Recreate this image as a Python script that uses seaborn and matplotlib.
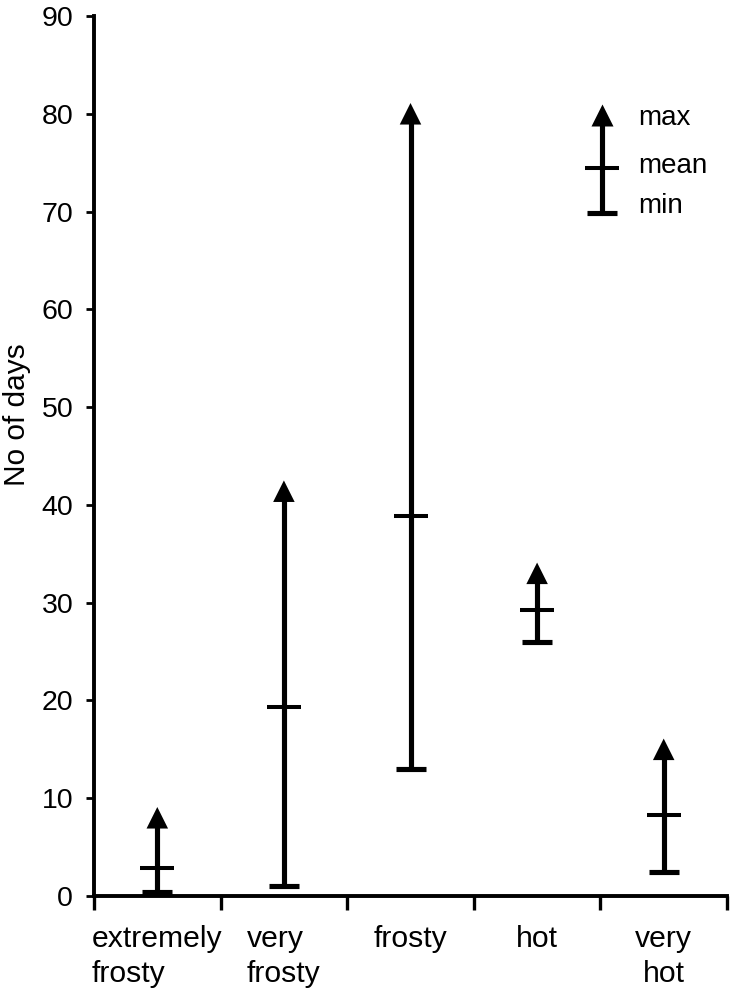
import numpy as np
import pandas as pd
import matplotlib
matplotlib.use("Agg")
import matplotlib.pyplot as plt
import seaborn as sns

# ---- data ----
categories = ["extremely\nfrosty", "very\nfrosty", "frosty", "hot", "very\nhot"]
min_days = [0.4, 1.0, 13.0, 26.0, 2.5]
mean_days = [2.9, 19.3, 38.9, 29.3, 8.3]
max_days = [8.0, 41.4, 80.0, 33.0, 15.0]
y_ticks = [0, 10, 20, 30, 40, 50, 60, 70, 80, 90]
legend_labels = ["max", "mean", "min"]

sns.set_theme(style="white")
plt.rcParams["font.family"] = ["Liberation Sans", "DejaVu Sans"]
plt.rcParams["text.color"] = "black"
plt.rcParams["axes.labelcolor"] = "black"
plt.rcParams["xtick.color"] = "black"
plt.rcParams["ytick.color"] = "black"

df = pd.DataFrame({"cat": categories, "min": min_days, "mean": mean_days, "max": max_days})
df["pos"] = np.arange(len(df))

fig = plt.figure(figsize=(7.33, 9.91), dpi=100)
ax = fig.add_axes([94 / 733, 1 - 896 / 991, (727 - 94) / 733, (896 - 16) / 991])

# vertical range lines
ax.vlines(df["pos"], df["min"], df["max"], color="black", lw=3.7, zorder=2)
# markers
sns.scatterplot(data=df, x="pos", y="max", marker="^", s=15.5 ** 2, color="black",
                edgecolor="none", linewidth=0, ax=ax, zorder=3, legend=False)
sns.scatterplot(data=df, x="pos", y="mean", marker="_", s=24.5 ** 2, color="black",
                linewidth=2.9, ax=ax, zorder=3, legend=False)
sns.scatterplot(data=df, x="pos", y="min", marker="_", s=21 ** 2, color="black",
                linewidth=3.7, ax=ax, zorder=3, legend=False)

# axes
ax.set_xlim(-0.5, len(categories) - 0.5)
ax.set_ylim(0, 90)
for side in ["top", "right"]:
    ax.spines[side].set_visible(False)
for side in ["left", "bottom"]:
    ax.spines[side].set_linewidth(2.8)
    ax.spines[side].set_color("black")
ax.spines["left"].set_zorder(1)

ax.set_yticks(y_ticks)
ax.set_yticklabels([str(t) for t in y_ticks], fontsize=20.5)
ax.tick_params(axis="y", direction="out", length=6, width=2.0, pad=9, color="black", left=True)

ax.set_xticks(df["pos"])
ax.set_xticklabels(categories, fontsize=21.7, linespacing=1.3, va="top")
ax.set_xticks(np.arange(-0.5, len(categories)), minor=True)
ax.tick_params(axis="x", which="major", length=0, pad=21)
ax.tick_params(axis="x", which="minor", direction="out", length=10, width=2.4, color="black", bottom=True)
for lbl, al in zip(ax.get_xticklabels(), ["left", "left", "center", "center", "center"]):
    lbl.set_multialignment(al)
ax.set_xlabel("")

ax.set_ylabel("No of days", fontsize=21.5)
ax.yaxis.label.set_va("center")
ax.yaxis.set_label_coords(-0.121, 0.547)

# legend key (axes fraction)
tr = ax.transAxes
lx = 0.8025
ax.plot([lx, lx], [0.776, 0.8875], transform=tr, color="black", lw=3.7, clip_on=False)
ax.plot([lx], [0.8875], transform=tr, marker="^", ms=15.5, color="black", mec="none", clip_on=False)
ax.plot([lx], [0.827], transform=tr, marker="_", ms=24.5, mew=2.9, color="black", clip_on=False)
ax.plot([lx], [0.776], transform=tr, marker="_", ms=21, mew=3.7, color="black", clip_on=False)
for lab, yy in zip(legend_labels, [0.876, 0.8216, 0.776]):
    ax.text(0.859, yy, lab, transform=tr, fontsize=20, ha="left", va="baseline")

fig.savefig("out.png", dpi=100)
